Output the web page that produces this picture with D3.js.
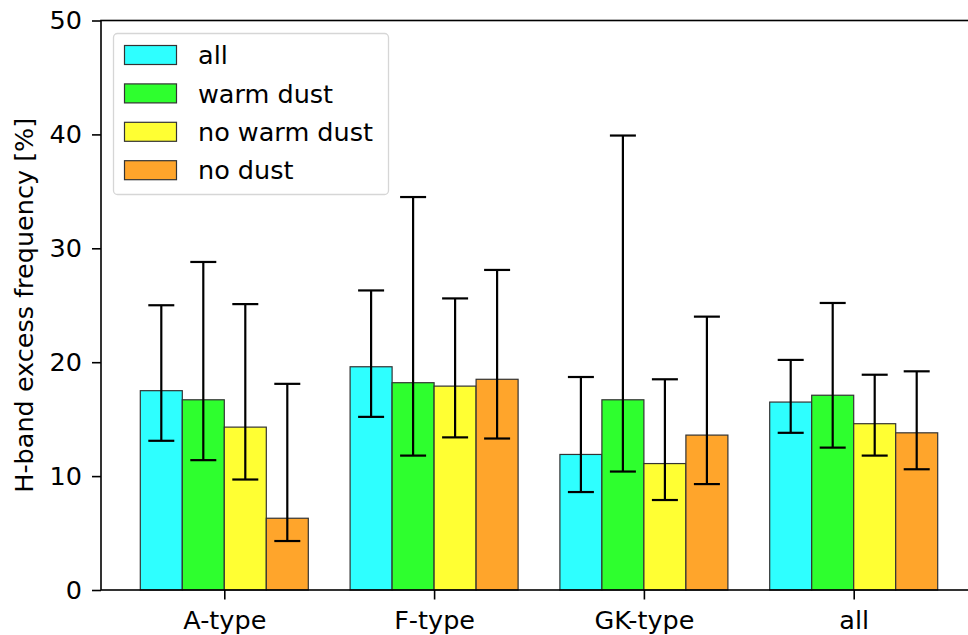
<!DOCTYPE html>
<html><head><meta charset="utf-8">
<script src="https://cdn.jsdelivr.net/npm/d3@7"></script>
<style>body{margin:0;background:#fff;overflow:hidden}svg{display:block}text{font-family:"DejaVu Sans",sans-serif}</style>
</head><body>
<script>
const categories = ["A-type", "F-type", "GK-type", "all"];
const seriesNames = ["all", "warm dust", "no warm dust", "no dust"];
const seriesColors = ["#2effff", "#2eff2e", "#ffff33", "#ffa52b"];
const values = [
  [17.5, 19.6, 11.9, 16.5],
  [16.7, 18.2, 16.7, 17.1],
  [14.3, 17.9, 11.1, 14.6],
  [6.3, 18.5, 13.6, 13.8]
];
const errLow = [
  [13.1, 15.2, 8.6, 13.8],
  [11.4, 11.8, 10.4, 12.5],
  [9.7, 13.4, 7.9, 11.8],
  [4.3, 13.3, 9.3, 10.6]
];
const errHigh = [
  [25.0, 26.3, 18.7, 20.2],
  [28.8, 34.5, 39.9, 25.2],
  [25.1, 25.6, 18.5, 18.9],
  [18.1, 28.1, 24.0, 19.2]
];
const yTicks = [0, 10, 20, 30, 40, 50];

const W = 968, H = 635;
const FS = 25.5;
const svg = d3.select("body").append("svg").attr("width", W).attr("height", H);
const mLeft = 101, mRight = 977, mTop = 20.5, mBottom = 590;
const step = 209.8;
const x = d3.scaleLinear().domain([-0.5877, 3.5877]).range([mLeft, mRight]);
const y = d3.scaleLinear().domain([0, 50]).range([mBottom, mTop]);
const barW = 42 / step;

const g = svg.append("g");
seriesNames.forEach((s, si) => {
  const off = (si - 1.5) * barW;
  categories.forEach((c, ci) => {
    const cx = ci + off;
    g.append("rect")
      .attr("x", x(cx - barW / 2)).attr("width", x(cx + barW / 2) - x(cx - barW / 2))
      .attr("y", y(values[si][ci])).attr("height", y(0) - y(values[si][ci]))
      .attr("fill", seriesColors[si]).attr("stroke", "#333").attr("stroke-width", 1.2);
  });
});
seriesNames.forEach((s, si) => {
  const off = (si - 1.5) * barW;
  categories.forEach((c, ci) => {
    const px = x(ci + off);
    const lo = y(errLow[si][ci]), hi = y(errHigh[si][ci]);
    g.append("line").attr("x1", px).attr("x2", px).attr("y1", lo).attr("y2", hi).attr("stroke", "#000").attr("stroke-width", 2.2);
    [lo, hi].forEach(v => g.append("line").attr("x1", px - 13).attr("x2", px + 13).attr("y1", v).attr("y2", v).attr("stroke", "#000").attr("stroke-width", 2.2));
  });
});

// axes
const yAxis = d3.axisLeft(y).tickValues(yTicks).tickSize(9).tickPadding(10);
const ya = svg.append("g").attr("transform", `translate(${mLeft},0)`).call(yAxis);
const xAxis = d3.axisBottom(x).tickValues([0, 1, 2, 3]).tickFormat(i => categories[i]).tickSize(9.5).tickPadding(11.5);
const xa = svg.append("g").attr("transform", `translate(0,${mBottom})`).call(xAxis);
[ya, xa].forEach(a => {
  a.select(".domain").remove();
  a.selectAll(".tick line").attr("stroke", "#000").attr("stroke-width", 1.6);
  a.selectAll(".tick text").attr("font-size", FS).attr("fill", "#000").attr("font-family", "DejaVu Sans");
});
// spines
svg.append("rect").attr("x", mLeft).attr("y", mTop).attr("width", mRight - mLeft).attr("height", mBottom - mTop)
  .attr("fill", "none").attr("stroke", "#000").attr("stroke-width", 1.6);

svg.append("text").attr("transform", `translate(24,${(mTop + mBottom) / 2}) rotate(-90)`)
  .attr("text-anchor", "middle").attr("dy", "0.35em").attr("font-size", FS).text("H-band excess frequency [%]");

// legend
const lg = svg.append("g");
lg.append("rect").attr("x", 113.5).attr("y", 33.5).attr("width", 275).attr("height", 161).attr("rx", 4)
  .attr("fill", "#fff").attr("fill-opacity", 0.8).attr("stroke", "#d6d6d6").attr("stroke-width", 1.3);
seriesNames.forEach((s, si) => {
  const cy = 55 + si * 38.4;
  lg.append("rect").attr("x", 124.5).attr("y", cy - 9.5).attr("width", 52).attr("height", 19)
    .attr("fill", seriesColors[si]).attr("stroke", "#333").attr("stroke-width", 1.2);
  lg.append("text").attr("x", 198).attr("y", cy).attr("dy", "0.36em").attr("font-size", FS).text(s);
});
</script>
</body></html>
